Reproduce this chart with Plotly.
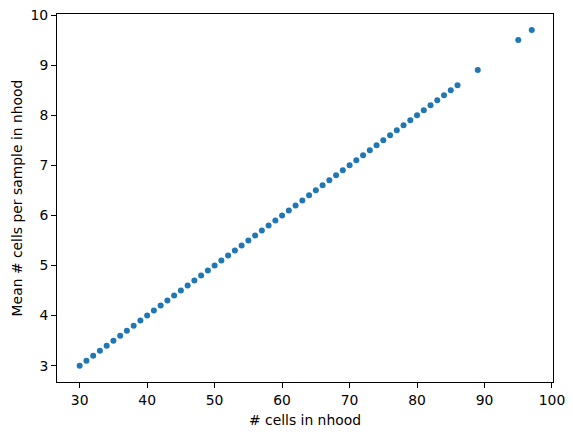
import plotly.graph_objects as go

cells_in_nhood = [30, 31, 32, 33, 34, 35, 36, 37, 38, 39, 40, 41, 42, 43, 44, 45, 46, 47, 48, 49,
                  50, 51, 52, 53, 54, 55, 56, 57, 58, 59, 60, 61, 62, 63, 64, 65, 66, 67, 68, 69,
                  70, 71, 72, 73, 74, 75, 76, 77, 78, 79, 80, 81, 82, 83, 84, 85, 86, 89, 95, 97]
mean_cells_per_sample = [3.0, 3.1, 3.2, 3.3, 3.4, 3.5, 3.6, 3.7, 3.8, 3.9, 4.0, 4.1, 4.2, 4.3, 4.4,
                         4.5, 4.6, 4.7, 4.8, 4.9, 5.0, 5.1, 5.2, 5.3, 5.4, 5.5, 5.6, 5.7, 5.8, 5.9,
                         6.0, 6.1, 6.2, 6.3, 6.4, 6.5, 6.6, 6.7, 6.8, 6.9, 7.0, 7.1, 7.2, 7.3, 7.4,
                         7.5, 7.6, 7.7, 7.8, 7.9, 8.0, 8.1, 8.2, 8.3, 8.4, 8.5, 8.6, 8.9, 9.5, 9.7]
x_ticks = [30, 40, 50, 60, 70, 80, 90, 100]
y_ticks = [3, 4, 5, 6, 7, 8, 9, 10]

fig = go.Figure(go.Scatter(
    x=cells_in_nhood, y=mean_cells_per_sample, mode="markers",
    marker=dict(color="#1f77b4", size=6, line=dict(width=0)),
))

font = dict(family="DejaVu Sans", size=13.9, color="black")
axis_common = dict(showline=True, linecolor="black", linewidth=1, mirror=True,
                   ticks="outside", ticklen=5, tickcolor="black", tickwidth=1,
                   showgrid=False, zeroline=False, tickfont=font, automargin=False,
                   ticklabeloverflow="allow")

# page body has an 8px default margin, so the figure is shrunk by 8px and leading margins offset
fig.update_layout(
    width=565, height=428,
    margin=dict(l=49, r=20, t=6, b=54),
    paper_bgcolor="white", plot_bgcolor="white",
    showlegend=False,
    font=font,
    xaxis=dict(range=[26.64, 100.15], tickvals=x_ticks,
               title=dict(text="# cells in nhood", font=font, standoff=8),
               **axis_common),
    yaxis=dict(range=[2.675, 10.02], tickvals=y_ticks,
               title=dict(text="Mean # cells per sample in nhood", font=font, standoff=4),
               **axis_common),
)

fig.write_html("out.html")
